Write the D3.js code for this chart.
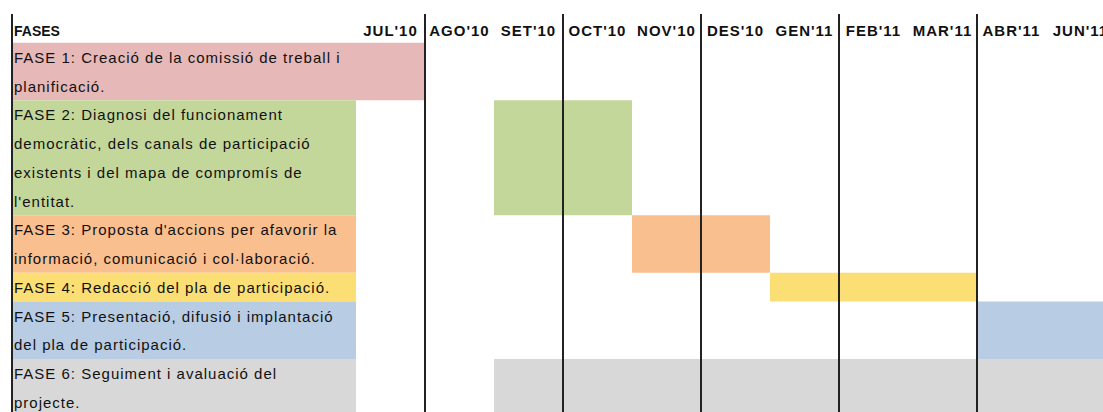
<!DOCTYPE html>
<html>
<head>
<meta charset="utf-8">
<script src="https://cdn.jsdelivr.net/npm/d3@7"></script>
<style>
  body { margin: 0; background: #fff; }
  text { font-family: "Liberation Sans", Arial, sans-serif; fill: #111; }
</style>
</head>
<body>
<script>
// months shown in the header
var months = ["JUL'10","AGO'10","SET'10","OCT'10","NOV'10","DES'10","GEN'11","FEB'11","MAR'11","ABR'11","JUN'11"]

// phase labels (already broken into lines as in the sheet)
var phaseLines = [
  ["FASE 1: Creació de la comissió de treball i", "planificació."],
  ["FASE 2: Diagnosi del funcionament", "democràtic, dels canals de participació", "existents i del mapa de compromís de", "l'entitat."],
  ["FASE 3: Proposta d'accions per afavorir la", "informació, comunicació i col·laboració."],
  ["FASE 4: Redacció del pla de participació."],
  ["FASE 5: Presentació, difusió i implantació", "del pla de participació."],
  ["FASE 6: Seguiment i avaluació del", "projecte."]
]
// first and last month of each phase
var phaseStart = ["JUL'10","SET'10","NOV'10","GEN'11","ABR'11","SET'10"]
var phaseEnd   = ["JUL'10","OCT'10","DES'10","MAR'11","JUN'11","JUN'11"]
var phaseColors = ["#e6b8b7","#c4d79b","#fabf8f","#fcdf74","#b8cce4","#d8d8d8"]
// vertical separators after these months
var dividers = ["JUL'10","SET'10","NOV'10","GEN'11","MAR'11"]

var W = 1103, H = 412
var svg = d3.select("body").append("svg")
    .attr("width", W)
    .attr("height", H)

var labelLeft = 12, labelRight = 356
var x = d3.scaleBand()
    .domain(months)
    .range([labelRight, labelRight + 69*months.length])

// one unit per text line, header is line 0
var totalLines = 1 + d3.sum(phaseLines, function(d){ return d.length })
var y = d3.scaleLinear()
    .domain([0, totalLines])
    .range([14, 14 + 28.75*totalLines])

var startLine = []
var acc = 1
for(i=0;i<phaseLines.length;i++){
    startLine.push(acc)
    acc += phaseLines[i].length
}

var rows = svg.append("g")
for(i=0;i<phaseLines.length;i++){
    var y0 = y(startLine[i]), y1 = y(startLine[i] + phaseLines[i].length)
    // label cell
    rows.append("rect")
        .attr("x", labelLeft)
        .attr("y", y0)
        .attr("width", labelRight - labelLeft)
        .attr("height", y1 - y0)
        .attr("fill", phaseColors[i])
    // bar
    var bx0 = x(phaseStart[i]), bx1 = x(phaseEnd[i]) + x.bandwidth()
    rows.append("rect")
        .attr("x", bx0)
        .attr("y", y0)
        .attr("width", bx1 - bx0)
        .attr("height", y1 - y0)
        .attr("fill", phaseColors[i])
    for(j=0;j<phaseLines[i].length;j++){
        rows.append("text")
            .attr("x", labelLeft + 2)
            .attr("y", y(startLine[i] + j) + 20)
            .attr("font-size", 15)
            .attr("letter-spacing", 1)
            .text(phaseLines[i][j])
    }
}

// header
svg.append("text")
    .attr("x", labelLeft + 2)
    .attr("y", y(0) + 22)
    .attr("font-size", 14)
    .attr("font-weight", "bold")
    .text("FASES")

svg.selectAll(".month")
    .data(months)
    .enter().append("text")
    .attr("class", "month")
    .attr("x", function(d){ return x(d) + x.bandwidth()/2 })
    .attr("y", y(0) + 22)
    .attr("text-anchor", "middle")
    .attr("font-size", 15)
    .attr("letter-spacing", 1)
    .attr("font-weight", "bold")
    .text(function(d){ return d })

// vertical lines
svg.append("line")
    .attr("x1", labelLeft).attr("x2", labelLeft)
    .attr("y1", y(0)).attr("y2", H)
    .attr("stroke", "#222").attr("stroke-width", 2)

svg.selectAll(".div")
    .data(dividers)
    .enter().append("line")
    .attr("class", "div")
    .attr("x1", function(d){ return x(d) + x.bandwidth() })
    .attr("x2", function(d){ return x(d) + x.bandwidth() })
    .attr("y1", y(0)).attr("y2", H)
    .attr("stroke", "#222").attr("stroke-width", 2)
</script>
</body>
</html>
